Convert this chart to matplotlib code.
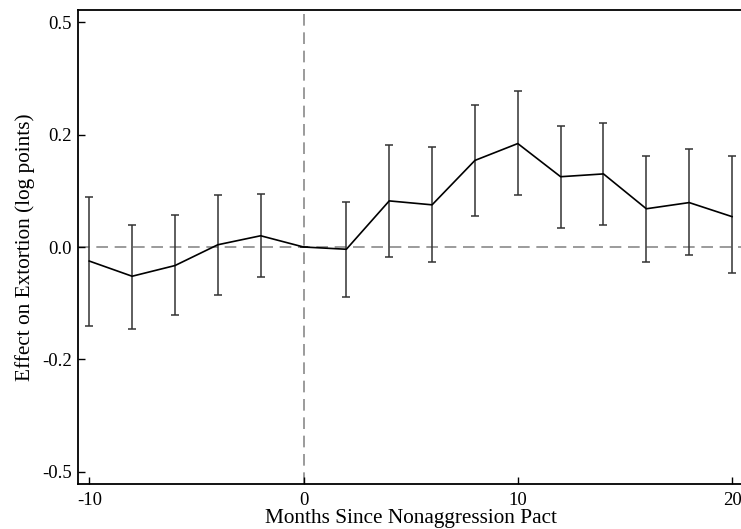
import matplotlib
matplotlib.use("Agg")
import matplotlib.pyplot as plt

# event study estimates (months relative to pact)
months = [-10, -8, -6, -4, -2, 0, 2, 4, 6, 8, 10, 12, 14, 16, 18, 20]
effect = [-0.025, -0.052, -0.033, 0.004, 0.020, 0.0, -0.004, 0.082, 0.075,
          0.154, 0.184, 0.125, 0.130, 0.068, 0.079, 0.054]
ci_hi = [0.089, 0.039, 0.057, 0.092, 0.095, 0.0, 0.080, 0.182, 0.177,
         0.252, 0.278, 0.215, 0.220, 0.161, 0.174, 0.161]
ci_lo = [-0.140, -0.145, -0.121, -0.085, -0.054, 0.0, -0.089, -0.017, -0.027,
         0.055, 0.092, 0.034, 0.039, -0.026, -0.015, -0.047]

xticks = [-10, 0, 10, 20]
yticks = [-0.4, -0.2, 0.0, 0.2, 0.4]
ytick_labels = ["-0.5", "-0.2", "0.0", "0.2", "0.5"]

plt.rcParams['font.family'] = ['Liberation Serif', 'DejaVu Serif']
plt.rcParams['axes.unicode_minus'] = False

W, H = 741, 529
fig = plt.figure(figsize=(W / 100, H / 100), dpi=100)
ax = fig.add_axes([77.7 / W, (H - 483.7) / H, (743.6 - 77.7) / W, (483.7 - 10.3) / H])

err_lo = [e - l for e, l in zip(effect, ci_lo)]
err_hi = [h - e for e, h in zip(effect, ci_hi)]

ax.axhline(0, color='#8a8a8a', lw=1.2, ls=(0, (7, 4)), zorder=1)
ax.axvline(0, color='#8a8a8a', lw=1.2, ls=(0, (7, 4)), zorder=1)

ax.errorbar(months, effect, yerr=[err_lo, err_hi], fmt='none',
            ecolor='#333333', elinewidth=1.1, capsize=3, capthick=1.1, zorder=2)
ax.plot(months, effect, color='black', lw=1.2, zorder=3)

ax.set_xlim(-10.54, 20.54)
ax.set_ylim(-0.421, 0.421)
ax.set_xticks(xticks)
ax.set_yticks(yticks)
ax.set_yticklabels(ytick_labels)
ax.tick_params(direction='in', length=5, width=1, labelsize=13.5,
               top=False, right=False)
ax.tick_params(axis='x', pad=6)
ax.tick_params(axis='y', pad=4)

for s in ax.spines.values():
    s.set_linewidth(1.3)

ax.set_xlabel("Months Since Nonaggression Pact", fontsize=15.3, labelpad=0)
ax.set_ylabel("Effect on Extortion (log points)", fontsize=15.3, labelpad=5)

fig.savefig("out.png", dpi=100)
